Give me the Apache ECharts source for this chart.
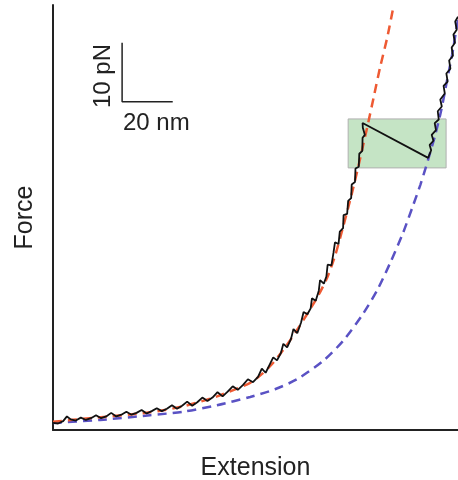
<!DOCTYPE html>
<html>
<head>
<meta charset="utf-8">
<script src="https://cdn.jsdelivr.net/npm/echarts@6/dist/echarts.min.js"></script>
<style>
html,body{margin:0;padding:0;background:#fff;}
#c{width:458px;height:480px;}
</style>
</head>
<body>
<div id="c"></div>
<script>
// Extension (nm) vs Force (pN)
const xLabel = 'Extension';
const yLabel = 'Force';
const scaleXLabel = '20 nm';
const scaleYLabel = '10 pN';

// Red dashed fit (folded state)
const redFit = [[0,1.4],[14.6,2.0],[38.3,3.0],[51.4,4.0],[64.8,5.7],[77.9,8.0],[82.6,9.5],[87.0,11.4],[91.7,14.0],[96.8,17.2],[104.3,22.4],[108.3,25.8],[111.5,29.6],[114.6,34.4],[116.6,37.6],[118.6,41.0],[120.6,44.6],[122.5,48.2],[124.5,52.0],[126.9,56.8],[129.2,61.4],[132.0,66.4],[134.4,71.5]];

// Blue dashed fit (unfolded state)
const blueFit = [[0,1.2],[18.6,1.7],[38.3,2.5],[51.4,3.1],[64.8,4.2],[77.9,5.6],[87.7,6.9],[96.4,8.6],[106.7,11.7],[114.6,15.1],[122.5,19.7],[128.1,23.7],[133.2,28.3],[138.3,33.4],[142.3,38.1],[145.1,41.5],[148.2,45.8],[151.0,50.0],[153.4,54.2],[155.7,59.3],[157.7,63.6],[159.3,67.8],[160.0,69.5]];

// Measured trace
const trace = [[0,1.2],[2,1.1],[4,1.5],[5.5,2.3],[7,1.8],[9,1.6],[11,2.1],[13,1.7],[15,2.0],[17,2.5],[19,2.0],[21,2.3],[23,2.9],[25,2.3],[27,2.6],[29,3.1],[31,2.6],[33,2.9],[35,3.4],[37,2.8],[39,3.2],[41,3.7],[43,3.2],[45,3.6],[47,4.2],[49,3.6],[51,4.1],[53,4.8],[55,4.1],[57,4.7],[59,5.5],[61,4.9],[63,5.5],[65,6.4],[67,5.7],[69,6.5],[71,7.4],[73,6.8],[75,7.6],[77,8.6],[79,8.1],[81,9.0],[82.5,10.4],[84,9.7],[85.5,11.0],[87,12.3],[88.5,11.8],[90,13.0],[91,14.6],[92.5,14.0],[94,15.4],[95,17.1],[96.5,16.4],[98,18.2],[99,20.0],[100.5,19.6],[101.8,20.6],[102.3,22.3],[103.8,21.9],[105,23.6],[105.5,25.4],[107,24.8],[108,26.0],[108.5,28.0],[110,27.9],[110.8,30.0],[111.4,31.8],[112.8,31.5],[113.3,33.6],[114.6,34.2],[114.8,36.4],[116.2,36.6],[116.6,38.8],[117.8,39.3],[118.0,41.6],[119.3,42.0],[119.5,44.3],[120.8,44.6],[121.0,46.8],[122.2,47.3],[122.3,49.5],[123.2,50.0],[122.4,51.2],[122.3,52.0],
  [148.2,46.1],[149.4,47.4],[148.8,48.3],[150.3,49.0],[149.6,50.0],[151.3,50.8],[150.8,52.0],[152.4,52.6],[152.0,54.0],[153.6,54.8],[153.0,56.0],[154.8,57.0],[154.3,58.3],[155.9,59.0],[155.4,60.4],[157.0,61.2],[156.5,62.6],[158.0,63.4],[157.5,64.8],[158.8,65.6],[158.2,67.0],[159.5,67.8],[158.9,69.2],[160,70.0]];

// Highlighted unfolding event box [x1,y1,x2,y2]
const eventBox = [116.6, 52.7, 155.3, 44.4];

// Scale bar: 10 pN vertical, 20 nm horizontal
const scaleBar = [[27.3,65.6],[27.3,55.6],[47.3,55.6]];

const font = '"Liberation Sans", Arial, sans-serif';
const chart = echarts.init(document.getElementById('c'));
chart.setOption({
  backgroundColor: '#fff',
  animation: false,
  grid: {left: 53, right: 0, top: 5, bottom: 50, containLabel: false, outerBoundsMode: 'none'},
  xAxis: {
    type: 'value', min: 0, max: 160,
    name: xLabel, nameLocation: 'middle', nameGap: 26,
    nameTextStyle: {fontFamily: font, fontSize: 25, color: '#222'},
    axisLine: {show: true, onZero: false, lineStyle: {color: '#222', width: 2}},
    axisTick: {show: false}, axisLabel: {show: false}, splitLine: {show: false}
  },
  yAxis: {
    type: 'value', min: 0, max: 72,
    name: yLabel, nameLocation: 'middle', nameGap: 15,
    nameTextStyle: {fontFamily: font, fontSize: 25, color: '#222'},
    axisLine: {show: true, onZero: false, lineStyle: {color: '#222', width: 2}},
    axisTick: {show: false}, axisLabel: {show: false}, splitLine: {show: false}
  },
  graphic: [
    {type: 'text', left: 91, top: 44, rotation: Math.PI/2, style: {text: scaleYLabel, font: '24px ' + font, fill: '#222'}},
    {type: 'text', left: 123, top: 111, style: {text: scaleXLabel, font: '24px ' + font, fill: '#222'}}
  ],
  series: [
    {
      type: 'line', data: blueFit, showSymbol: false, smooth: 0.25, z: 2,
      lineStyle: {color: '#5a52c4', width: 2.5, type: [9, 6]}
    },
    {
      type: 'line', data: redFit, showSymbol: false, smooth: 0.25, z: 2,
      lineStyle: {color: '#ee5a33', width: 2.5, type: [9, 6]}
    },
    {
      type: 'line', data: trace, showSymbol: false, z: 3,
      lineStyle: {color: '#111', width: 1.8}
    },
    {
      type: 'line', data: scaleBar, showSymbol: false, z: 3,
      lineStyle: {color: '#222', width: 1.5},
      markArea: {
        silent: true,
        itemStyle: {color: 'rgba(150,205,150,0.55)', borderColor: '#b0b0b0', borderWidth: 1},
        data: [[{coord: [eventBox[0], eventBox[1]]}, {coord: [eventBox[2], eventBox[3]]}]]
      }
    }
  ]
});
</script>
</body>
</html>
